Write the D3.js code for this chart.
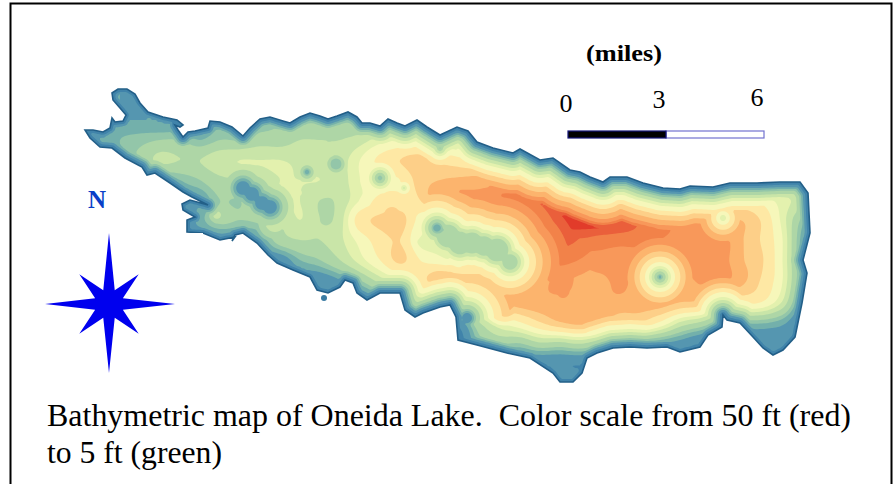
<!DOCTYPE html>
<html>
<head>
<meta charset="utf-8">
<script src="https://cdn.jsdelivr.net/npm/d3@7"></script>
<style>
  html, body { margin: 0; padding: 0; background: #fff; }
  svg { display: block; }
  text { font-family: "Liberation Serif", "Times New Roman", serif; white-space: pre; }
</style>
</head>
<body>
<svg id="chart" width="893" height="484"></svg>
<script>
// Depth bands, ft (lower limit of each band) and their colours
const bandLimits = [0, 1.5, 3, 4, 5, 7, 9, 11, 14, 18, 22, 27, 32, 38, 44, 48];
const bandColors = ['#3f83aa', '#5496b0', '#73b0ab', '#93c6a9', '#aed6a6', '#c9e5a8', '#e3f1ae', '#f6f7ba',
  '#fee8a4', '#fdcf88', '#fcb46d', '#f8985a', '#f2824a', '#ea5f3b', '#e23a2b', '#d91c1e'];

// Depth, ft. One row every 20 map units, one column every 20 map units
const depthGrid = [
  [3,3,3,3,6,6,6,6,6,6,6,6,6,6,6,6,6,6,6,6,6,6,6,6,6,6,6,6,6,6,6,6,6,6,6,6,6,6],
  [3,3,3,3,6,6,6,6,6,6,6,6,6,6,6,6,6,6,6,6,6,6,6,6,6,6,6,6,6,6,6,6,6,6,6,6,6,6],
  [3,3,3,3,3,3,3,4,4,4,5,5,5,5,5,6,6,6,6,6,6,6,6,6,6,6,6,6,6,6,6,6,6,6,6,6,6,6],
  [3,3,4,4.5,5,5,4,5,5,6,6,7,7,7,8,10,11,11,9,7,5,6,6,6,6,6,6,6,6,6,6,6,6,6,6,6,6,6],
  [3,3,3.5,5.5,7.5,7,7,8.5,9,9,9,8.5,7.5,8,11,15,18,20,17,15,12,9,6,6,6,6,6,6,6,6,6,6,6,6,6,6,6,6],
  [3,3,3,4,3,4,5,6.5,7,8,9,9,9,8,11,13,14,20,22,23,24,24,20,14,9,6,6,6,6,6,6,6,6,6,6,6,6,6],
  [2,2,2,2,2,3,3,5,5,7,9,9,7,7.5,11,14,15,18,26,28,28,32,44,47,40,30,20,13,15,15,15,15,14,14,13,10,8,4],
  [2,2,2,2,2,2,3.5,5.5,5,5.5,7,9,7,8,16,19,20,12,7,12,20,29,38,47,50,47,46,42,36,31,30,30,20,22,18,11,5,2],
  [2,2,2,2,2,2,2,2,2,3,6,7,7,8.5,12,16,18,10,9,7,8,7,14,27,33,37,35,34,34,32,31,31,30,23,18,12,4,2],
  [2,2,2,2,2,2,2,2,2,2,2,4,5,7,10,14,19,14,12,10,9,6,11,15,25,28,30,29,28,26,28,31,30,23,19,12,4,2],
  [2,2,2,2,2,2,2,2,2,2,2,2,2,3,5,8,11,16,21,20,21,21,21,24,29,26,26,28,25,20,24,28,29,24,18,12,4,2],
  [2,2,2,2,2,2,2,2,2,2,2,2,2,2,1.5,3,5,8,9,12,20,23,25,26,26,26,26,26,25,25,23,22,15,16,15,10,3,2],
  [2,2,2,2,2,2,2,2,2,2,2,2,2,2,2,2,2,2,2,3,8,12,15,19,23,25,23,19,19,15,10,8,5,5,5,4,2,2],
  [2,2,2,2,2,2,2,2,2,2,2,2,2,2,2,2,2,2,2,1,4.5,6,6,8,8,9,7,5.5,5,4,3,2,2,2,2,2,2,2],
  [2,2,2,2,2,2,2,2,2,2,2,2,2,2,2,2,2,2,2,2,2,2,2,2,2,2,2,2,2,2,2,2,2,2,2,2,2,2],
  [2,2,2,2,2,2,2,2,2,2,2,2,2,2,2,2,2,2,2,2,2,2,2,2,2,2,2,2,2,2,2,2,2,2,2,2,2,2],
  [2,2,2,2,2,2,2,2,2,2,2,2,2,2,2,2,2,2,2,2,2,2,2,2,2,2,2,2,2,2,2,2,2,2,2,2,2,2]
];

// Shoreline in map units, clockwise from the north-west tip
const shoreE = [5,13,23,30,32,35,43,46,40,33,32,38,47,55,60,68,83,97,103,100,95,98,103,108,115,128,130,140,152,163,170,180,190,203,210,220,230,240,248,257,268,277,282,290,300,308,317,325,337,347,360,377,388,397,413,433,440,460,473,490,500,510,523,530,547,563,583,600,610,633,650,677,700,720,728,730,723,727,722,715,703,693,683,673,660,647,643,642,628,620,600,587,567,550,533,517,507,502,493,480,473,450,427,397,378,376,370,360,343,335,325,320,300,287,277,273,265,260,248,237,230,213,197,188,177,163,155,152,155,140,123,107,107,115,103,102,110,128,112,103,90,75,67,62,45,32,20,10];
const shoreN = [50,50,52,48,38,42,41,35,28,20,13,9,9,14,23,32,37,40,45,47,45,50,57,52,51,48,41,42,47,56,48,39,37,41,43,37,33,36,39,36,32,37,43,43,46,39,43,46,40,47,55,47,51,62,68,73,69,80,78,90,92,97,102,97,97,103,108,109,106,107,103,103,102,102,113,153,180,193,223,257,270,275,268,257,243,240,235,247,255,267,272,267,268,267,268,273,278,293,302,302,293,278,273,265,260,237,225,227,233,237,230,213,213,220,213,203,200,207,213,210,197,190,183,175,163,153,155,161,157,160,153,152,140,137,130,124,120,125,117,112,103,93,95,87,78,68,67,58];

// Small island off the south shore
const isletE = [244];
const isletN = [218];

// Shoals and holes too small for the grid: map units, ft, flat top radius, ft gained per map unit
const shoalE = [249,227,256,300,324,163,172,182,190,357,368,380,392,404,417,430,580,643,387,360];
const shoalN = [60,92,84,98,108,108,114,123,127,148,156,163,163,166,170,182,197,138,238,68];
const shoalDepth = [5.5,3,4.5,4,8,2,2,2,2,3.5,5,5,5.5,6,5,6,3.5,8.5,1.5,4.5];
const shoalFlat = [0,1,5,1,0,4,4,4,4,3,8,8,8,8,8,6,1,0,2,0];
const shoalRise = [.8,.7,.7,.7,1,.35,.35,.35,.35,.6,.6,.6,.6,.6,.6,.6,.75,.8,.5,.8];
const holeE = [473,517,570,588,609,317,393,425,369,483,372,312,137,195,218];
const holeN = [132,138,175,169,193,175,210,223,200,212,127,135,135,142,113];
const holeDepth = [51,46,35,35,35,21,28,29,23,30,33,20,9,10,12];
const holeDrop = [.35,.5,.9,1,1,.6,.8,.8,.6,.5,.8,.25,.5,.3,1];

// Scale bar and compass
const scaleMiles = [0, 3, 6];
const scaleLabels = ['0', '3', '6'];
const compassAngles = [0, 22.5, 45, 67.5, 90, 112.5, 135, 157.5, 180, 202.5, 225, 247.5, 270, 292.5, 315, 337.5];
const compassReach = [71, 15, 42, 15, 66, 15, 42, 15, 69, 15, 42, 15, 64, 15, 42, 15];

const svg = d3.select('#chart');

// 740 map units across the frame, 32.67 units to the mile
const mapX = d3.scaleLinear().domain([0, 740]).range([80, 820]);
const mapY = d3.scaleLinear().domain([0, 320]).range([80, 400]);
const milesX = d3.scaleLinear().domain([0, 6]).range([568, 764]);
const bandColor = d3.scaleOrdinal().domain(bandLimits).range(bandColors);

// How deep the lake can get this far from shore (steepest bank seen on the map)
const bankDepth = d3.scaleLinear()
  .domain([0, 3, 5, 7, 9, 12, 15, 18, 23, 27, 32, 40, 48])
  .range([0, 1.5, 3, 4, 5, 7, 9, 11, 14, 18, 22, 30, 52])
  .clamp(true);

const shore = shoreE.map((e, i) => [e, shoreN[i]]);

function shoreDistance(x, y) {
  let best = Infinity;
  for (let i = 0; i < shore.length; i++) {
    const a = shore[i], b = shore[(i + 1) % shore.length];
    const dx = b[0] - a[0], dy = b[1] - a[1];
    const t = Math.max(0, Math.min(1, ((x - a[0]) * dx + (y - a[1]) * dy) / (dx * dx + dy * dy)));
    const px = a[0] + t * dx - x, py = a[1] + t * dy - y;
    const d = px * px + py * py;
    if (d < best) best = d;
  }
  return Math.sqrt(best);
}

// Smooth reading between grid values
function cubic(p0, p1, p2, p3, t) {
  return p1 + 0.5 * t * (p2 - p0 + t * (2 * p0 - 5 * p1 + 4 * p2 - p3 + t * (3 * (p1 - p2) + p3 - p0)));
}

function gridDepth(x, y) {
  const gx = x / 20, gy = y / 20;
  const c = Math.floor(gx), r = Math.floor(gy);
  const at = (rr, cc) => depthGrid[Math.max(0, Math.min(16, rr))][Math.max(0, Math.min(37, cc))];
  const rows = [-1, 0, 1, 2].map(k =>
    cubic(at(r + k, c - 1), at(r + k, c), at(r + k, c + 1), at(r + k, c + 2), gx - c));
  return cubic(rows[0], rows[1], rows[2], rows[3], gy - r);
}

// Fine field for the contour bands
const step = 2;
const nx = 740 / step + 1, ny = 320 / step + 1;
const field = new Float64Array(nx * ny);
for (let j = 0; j < ny; j++) {
  for (let i = 0; i < nx; i++) {
    const x = i * step, y = j * step;
    let d = gridDepth(x, y);
    holeE.forEach((e, k) => {
      d = Math.max(d, holeDepth[k] - Math.hypot(x - e, y - holeN[k]) * holeDrop[k]);
    });
    shoalE.forEach((e, k) => {
      const off = Math.max(0, Math.hypot(x - e, y - shoalN[k]) - shoalFlat[k]);
      d = Math.min(d, shoalDepth[k] + off * shoalRise[k]);
    });
    field[j * nx + i] = Math.min(d, bankDepth(shoreDistance(x, y)));
  }
}

const contours = d3.contours().size([nx, ny]).thresholds(bandLimits.slice(1))(field);

const gridProjection = d3.geoTransform({
  point(x, y) { this.stream.point(mapX((x - 0.5) * step), mapY((y - 0.5) * step)); }
});
const bandPath = d3.geoPath(gridProjection);

const shoreLine = d3.line()
  .x(d => mapX(d[0]))
  .y(d => mapY(d[1]))
  .curve(d3.curveLinearClosed);

const defs = svg.append('defs');
defs.append('clipPath').attr('id', 'lake-clip').append('path').attr('d', shoreLine(shore));
const soft = defs.append('filter').attr('id', 'soft');
soft.append('feGaussianBlur').attr('stdDeviation', 0.6);
const softer = defs.append('filter').attr('id', 'softer')
  .attr('x', '-10%').attr('y', '-10%').attr('width', '120%').attr('height', '120%');
softer.append('feGaussianBlur').attr('stdDeviation', 0.5);

// Frame
svg.append('path')
  .attr('d', 'M10.5,484V3.5H891.5V484')
  .attr('fill', 'none')
  .attr('stroke', '#000')
  .attr('stroke-width', 2);

// Lake
const lake = svg.append('g').attr('filter', 'url(#soft)');
lake.append('path').attr('d', shoreLine(shore)).attr('fill', bandColors[0]);
lake.append('g')
  .attr('clip-path', 'url(#lake-clip)')
  .selectAll('path')
  .data(contours)
  .join('path')
  .attr('d', bandPath)
  .attr('fill', d => bandColor(d.value));
lake.append('path')
  .attr('d', shoreLine(shore))
  .attr('fill', 'none')
  .attr('stroke', '#235f88')
  .attr('stroke-width', 1.6);
lake.selectAll('.islet')
  .data(isletE)
  .join('circle')
  .attr('class', 'islet')
  .attr('cx', d => mapX(d))
  .attr('cy', (d, i) => mapY(isletN[i]))
  .attr('r', 3)
  .attr('fill', '#3a7ba3');

// Compass sits on its own white box, which covers a corner of the shore
svg.append('rect')
  .attr('x', 30).attr('y', 233)
  .attr('width', 173).attr('height', 150)
  .attr('fill', '#fff');

const star = d3.lineRadial()
  .angle((d, i) => compassAngles[i] * Math.PI / 180)
  .radius(d => d)
  .curve(d3.curveLinearClosed);

svg.append('path')
  .attr('d', star(compassReach))
  .attr('transform', 'translate(109,304)')
  .attr('fill', '#0000ee')
  .attr('filter', 'url(#softer)');

svg.append('text')
  .attr('x', 97).attr('y', 208)
  .attr('text-anchor', 'middle')
  .attr('font-size', 25)
  .attr('font-weight', 'bold')
  .attr('fill', '#0a3fc8')
  .text('N');

// Scale bar
const barY = 131, barH = 7;
svg.append('rect')
  .attr('x', milesX(3)).attr('y', barY)
  .attr('width', milesX(6) - milesX(3)).attr('height', barH)
  .attr('fill', '#fff').attr('stroke', '#7272cf').attr('stroke-width', 1.2);
svg.append('rect')
  .attr('x', milesX(0)).attr('y', barY)
  .attr('width', milesX(3) - milesX(0)).attr('height', barH)
  .attr('fill', '#000').attr('stroke', '#14147a').attr('stroke-width', 1.2);

const labelNudge = [-2, -7, -7];
const labelBase = [112, 108, 106];
svg.selectAll('.mile-label')
  .data(scaleMiles)
  .join('text')
  .attr('class', 'mile-label')
  .attr('x', (d, i) => milesX(d) + labelNudge[i])
  .attr('y', (d, i) => labelBase[i])
  .attr('text-anchor', 'middle')
  .attr('font-size', 26)
  .text((d, i) => scaleLabels[i]);

svg.append('text')
  .attr('x', 586).attr('y', 61)
  .attr('font-size', 24)
  .attr('font-weight', 'bold')
  .attr('textLength', 76)
  .attr('lengthAdjust', 'spacingAndGlyphs')
  .text('(miles)');

// Caption
svg.append('text').attr('x', 47).attr('y', 426).attr('font-size', 31)
  .attr('textLength', 804).attr('lengthAdjust', 'spacingAndGlyphs')
  .text('Bathymetric map of Oneida Lake.  Color scale from 50 ft (red)');
svg.append('text').attr('x', 47).attr('y', 463).attr('font-size', 31)
  .attr('textLength', 175).attr('lengthAdjust', 'spacingAndGlyphs')
  .text('to 5 ft (green)');
</script>
</body>
</html>
